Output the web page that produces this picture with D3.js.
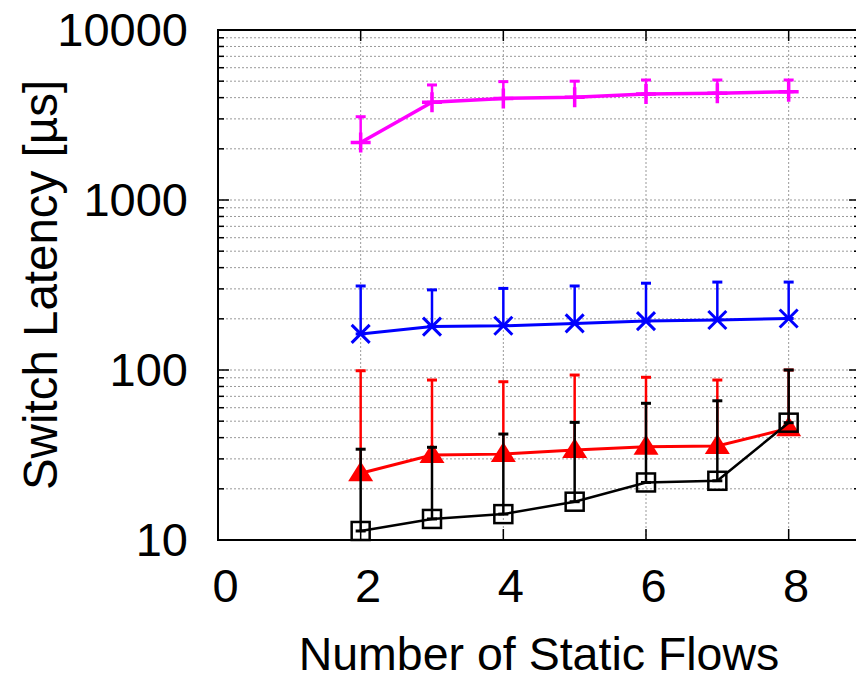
<!DOCTYPE html>
<html><head><meta charset="utf-8">
<script src="https://cdn.jsdelivr.net/npm/d3@7"></script>
<style>body{margin:0;background:#fff}svg{display:block}text{font-family:"Liberation Sans",Arial,Helvetica,sans-serif}</style>
</head><body><svg id="c" width="856" height="681"></svg>
<script>
const xs = [2,3,4,5,6,7,8];
const xTicks = [0,2,4,6,8];
const yTicks = [10,100,1000,10000];
const magentaMean = [2180,3760,3960,4020,4200,4250,4330];
const magentaHigh = [3090,4750,4970,5000,5080,5080,5080];
const magentaLow  = [2180,3760,3960,4020,4200,4250,4330];
const blueMean = [163,180,182,188,194,197,201];
const blueHigh = [312,296,302,312,324,329,329];
const blueLow  = [163,180,182,188,194,197,201];
const redMean = [24.7,31.6,32,33.8,35.4,35.7,45.4];
const redHigh = [99,87.3,85.3,93.4,90.6,87.3,100];
const redLow  = [24.7,31.6,32,33.8,35.4,35.7,45.4];
const blackMean = [11.3,13.3,14.2,16.8,21.8,22.3,49];
const blackHigh = [34.2,35.1,42,49.2,63.7,65.9,100];
const blackLow  = [11.3,13.3,14.2,16.8,21.8,22.3,49];

const series = [
  {color:"#ff00ff", mean:magentaMean, high:magentaHigh, low:magentaLow, marker:"plus", lw:3.5},
  {color:"#0000ff", mean:blueMean, high:blueHigh, low:blueLow, marker:"cross", lw:3},
  {color:"#ff0000", mean:redMean, high:redHigh, low:redLow, marker:"tri", lw:3},
  {color:"#000000", mean:blackMean, high:blackHigh, low:blackLow, marker:"square", lw:2.5}
];

const L=218, R=860, T=30, B=540;
const FS=47;
const svg = d3.select("#c");
const x = d3.scaleLinear().domain([0,9]).range([L,R]);
const y = d3.scaleLog().domain([10,10000]).range([B,T]);

// grid
const minor = [];
for (let d=10; d<10000; d*=10) for (let k=1;k<10;k++) minor.push(d*k);
minor.push(10000);
const g = svg.append("g");
g.selectAll("line.hg").data(minor.filter(v=>v>10&&v<10000)).enter().append("line")
  .attr("x1",L).attr("x2",R).attr("y1",d=>y(d)).attr("y2",d=>y(d))
  .attr("stroke","#999").attr("stroke-width",1).attr("stroke-dasharray","2,2");
g.selectAll("line.vg").data(xTicks.filter(v=>v>0)).enter().append("line")
  .attr("x1",d=>x(d)).attr("x2",d=>x(d)).attr("y1",T).attr("y2",B)
  .attr("stroke","#999").attr("stroke-width",1).attr("stroke-dasharray","2,2");

// ticks (inward, mirrored)
const axG = svg.append("g");
minor.forEach(v=>{
  const len = yTicks.includes(v) ? 11 : 6;
  axG.append("line").attr("x1",L).attr("x2",L+len).attr("y1",y(v)).attr("y2",y(v)).attr("stroke","#000").attr("stroke-width",1.5);
  axG.append("line").attr("x1",R).attr("x2",R-len).attr("y1",y(v)).attr("y2",y(v)).attr("stroke","#000").attr("stroke-width",1.5);
});
xTicks.forEach(v=>{
  axG.append("line").attr("x1",x(v)).attr("x2",x(v)).attr("y1",B).attr("y2",B-11).attr("stroke","#000").attr("stroke-width",1.5);
  axG.append("line").attr("x1",x(v)).attr("x2",x(v)).attr("y1",T).attr("y2",T+11).attr("stroke","#000").attr("stroke-width",1.5);
});

// tick labels via axes
const yAx = svg.append("g").attr("transform",`translate(${L},0)`)
  .call(d3.axisLeft(y).tickValues(yTicks).tickFormat(d3.format("d")).tickSize(0).tickPadding(30));
yAx.select(".domain").remove();
yAx.selectAll("text").attr("font-size",FS).attr("fill","#000").attr("font-family","Liberation Sans, Arial, sans-serif");
const xAx = svg.append("g").attr("transform",`translate(7,${B})`)
  .call(d3.axisBottom(x).tickValues(xTicks).tickFormat(d3.format("d")).tickSize(0).tickPadding(29));
xAx.select(".domain").remove();
xAx.selectAll("text").attr("font-size",FS).attr("fill","#000").attr("font-family","Liberation Sans, Arial, sans-serif");

// axis labels
svg.append("text").attr("x",(L+R)/2).attr("y",670).attr("text-anchor","middle")
  .attr("font-size",46.5).text("Number of Static Flows");
svg.append("text").attr("transform",`translate(57,${(T+B)/2}) rotate(-90)`).attr("text-anchor","middle")
  .attr("font-size",47.5).text("Switch Latency [µs]");

// series
const line = d3.line().x(d=>x(d[0])).y(d=>y(d[1]));
series.forEach(s=>{
  const sg = svg.append("g");
  const pts = xs.map((xv,i)=>[xv,s.mean[i]]);
  xs.forEach((xv,i)=>{
    const cx = x(xv);
    sg.append("line").attr("x1",cx).attr("x2",cx).attr("y1",y(s.low[i])).attr("y2",y(s.high[i]))
      .attr("stroke",s.color).attr("stroke-width",2.5);
    [s.low[i], s.high[i]].forEach(v=>{
      sg.append("line").attr("x1",cx-5).attr("x2",cx+5).attr("y1",y(v)).attr("y2",y(v))
        .attr("stroke",s.color).attr("stroke-width",3);
    });
  });
  sg.append("path").attr("d",line(pts)).attr("fill","none").attr("stroke",s.color).attr("stroke-width",s.lw);
  pts.forEach(p=>{
    const cx=x(p[0]), cy=y(p[1]);
    if (s.marker==="plus") {
      sg.append("path").attr("d",`M${cx-10},${cy}H${cx+10}M${cx},${cy-10}V${cy+10}`).attr("stroke",s.color).attr("stroke-width",3.5);
    } else if (s.marker==="cross") {
      sg.append("path").attr("d",`M${cx-9},${cy-9}L${cx+9},${cy+9}M${cx-9},${cy+9}L${cx+9},${cy-9}`).attr("stroke",s.color).attr("stroke-width",3);
    } else if (s.marker==="tri") {
      sg.append("path").attr("d",`M${cx},${cy-12}L${cx+12.5},${cy+8}L${cx-12.5},${cy+8}Z`).attr("fill",s.color);
    } else {
      sg.append("rect").attr("x",cx-9).attr("y",cy-9).attr("width",18).attr("height",18)
        .attr("fill","none").attr("stroke",s.color).attr("stroke-width",2.5);
    }
  });
});

// border
svg.append("rect").attr("x",L).attr("y",T).attr("width",R-L).attr("height",B-T)
  .attr("fill","none").attr("stroke","#000").attr("stroke-width",2);
</script></body></html>
